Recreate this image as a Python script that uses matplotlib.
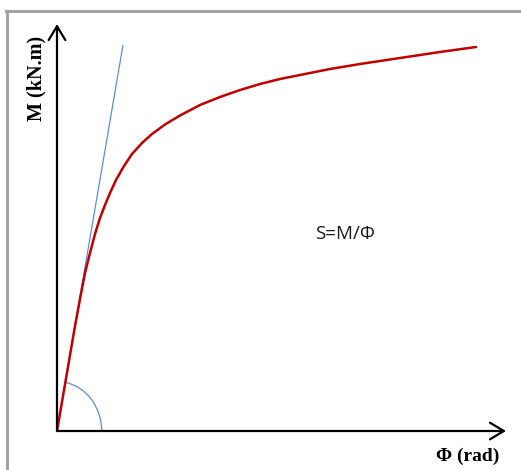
import numpy as np
import matplotlib
matplotlib.use("Agg")
import matplotlib.pyplot as plt
from matplotlib.patches import Arc
from matplotlib.lines import Line2D

# moment-rotation curve (arbitrary units)
phi = [0, 0.6, 1.2, 1.8, 2.3, 2.8, 3.3, 3.8, 4.3, 4.8, 5.3, 5.9, 6.7, 7.5,
       8.5, 9.5, 10.8, 12.3, 14.3, 16.3, 18.3, 20.3, 22.3, 24.3, 27.3, 30.3,
       34.3, 38.3, 41.9]
M = [0, 3.5, 7.0, 10.5, 13.2, 15.8, 17.8, 19.7, 21.3, 22.6, 23.8, 25.1, 26.5,
     27.7, 28.8, 29.7, 30.65, 31.55, 32.6, 33.4, 34.1, 34.7, 35.2, 35.6, 36.2,
     36.7, 37.3, 37.9, 38.4]
# initial stiffness line
phi_init = [0, 6.6]
M_init = [0, 38.6]

W, H = 521, 470
fig = plt.figure(figsize=(W / 100, H / 100), dpi=100)

# origin at (57,431) px, axis tips at x=506, y=24
ox, oy = 57, 431
ax = fig.add_axes([ox / W, (H - oy) / H, (506 - ox) / W, (oy - 24) / H])
ax.set_xlim(0, 44.9)
ax.set_ylim(0, 40.7)
ax.axis("off")

ax.plot(phi_init, M_init, color="#5b8fd6", lw=0.9, solid_capstyle="butt")
ax.plot(phi, M, color="#c00000", lw=1.8, solid_capstyle="round",
        solid_joinstyle="round")
ax.add_patch(Arc((0, 0), 8.94, 9.9, theta1=0, theta2=80.3,
                 color="#5b8fd6", lw=0.9))

arrow = dict(arrowstyle="->,head_length=1.0,head_width=0.6", lw=1.6,
             color="black", shrinkA=0, shrinkB=0, mutation_scale=10)
ax.annotate("", xy=(44.9, 0), xytext=(0, 0), arrowprops=arrow,
            annotation_clip=False)
ax.annotate("", xy=(0, 40.7), xytext=(0, 0), arrowprops=arrow,
            annotation_clip=False)

fig.text(36 / W, 1 - 78 / H, "M (kN.m)", rotation=90, ha="center",
         va="center", fontsize=14.5, fontweight="bold",
         family="Liberation Serif")
fig.text(468 / W, 1 - 456 / H, "\u03a6 (rad)", ha="center", va="center",
         fontsize=14, fontweight="bold", family="Liberation Serif")
fig.text(345 / W, 1 - 234 / H, "S=M/\u03a6", ha="center", va="center",
         fontsize=13.5, color="#1a1a1a", family="Open Sans")

# grey frame (only top and left edges visible)
gc = "#a3a3a3"
fig.add_artist(Line2D([6.7 / W, 6.7 / W], [0, 1 - 10.5 / H],
                      transform=fig.transFigure, color=gc, lw=2.2))
fig.add_artist(Line2D([5.6 / W, 1], [1 - 10.5 / H, 1 - 10.5 / H],
                      transform=fig.transFigure, color=gc, lw=2.2))

fig.savefig("out.png", dpi=100)
